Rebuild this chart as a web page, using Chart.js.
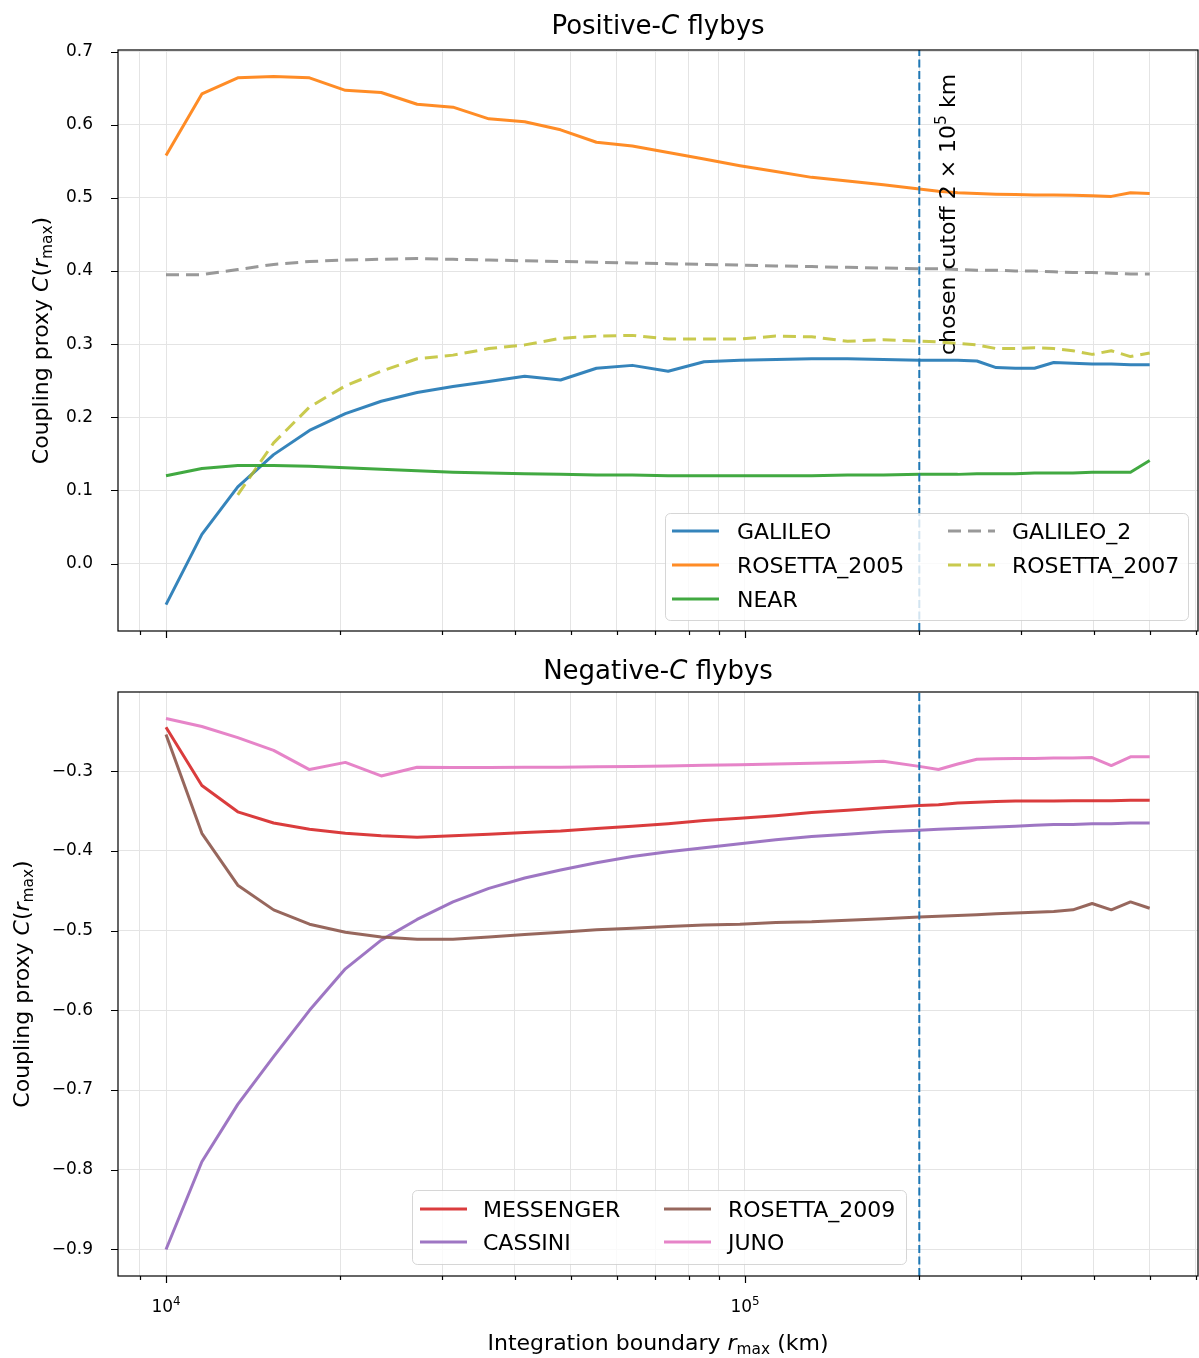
<!DOCTYPE html>
<html>
<head>
<meta charset="utf-8">
<script src="https://cdn.jsdelivr.net/npm/chart.js@4.4.0/dist/chart.umd.min.js"></script>
<style>
  html, body { margin: 0; padding: 0; background: #fff; }
  #wrap { position: relative; width: 1199px; height: 1358px; }
  #posChart { position: absolute; left: 0; top: 0; }
  #negChart { position: absolute; left: 0; top: 650px; }
</style>
</head>
<body>
<div id="wrap">
  <canvas id="posChart" width="1199" height="650"></canvas>
  <canvas id="negChart" width="1199" height="708"></canvas>
</div>
<script>
// integration boundary r_max (km)
const rMax = [10000, 11533, 13302, 15341, 17694, 20407, 23535, 27144, 31306, 36106,
  41642, 48027, 55391, 63884, 73679, 84976, 98005, 113032, 130363, 150351,
  173404, 200000, 215870, 233000, 251487, 271443, 292982, 316228, 341321, 368405,
  397639, 429193, 463251, 500000];

// positive-C flybys
const galileo = [-0.056, 0.040, 0.105, 0.149, 0.182, 0.205, 0.222, 0.234, 0.242, 0.249,
  0.256, 0.251, 0.267, 0.271, 0.263, 0.276, 0.278, 0.279, 0.280, 0.280,
  0.279, 0.278, 0.278, 0.278, 0.277, 0.268, 0.267, 0.267, 0.275, 0.274,
  0.273, 0.273, 0.272, 0.272];
const rosetta2005 = [0.558, 0.642, 0.664, 0.666, 0.664, 0.647, 0.644, 0.628, 0.624, 0.608,
  0.604, 0.593, 0.576, 0.571, 0.562, 0.553, 0.544, 0.536, 0.528, 0.523,
  0.518, 0.512, 0.509, 0.507, 0.506, 0.505, 0.5045, 0.504, 0.504, 0.5035,
  0.503, 0.502, 0.507, 0.506];
const near = [0.120, 0.130, 0.134, 0.134, 0.133, 0.131, 0.129, 0.127, 0.125, 0.124,
  0.123, 0.122, 0.121, 0.121, 0.120, 0.120, 0.120, 0.120, 0.120, 0.121,
  0.121, 0.122, 0.122, 0.122, 0.123, 0.123, 0.123, 0.124, 0.124, 0.124,
  0.125, 0.125, 0.125, 0.141];
const galileo2 = [0.395, 0.395, 0.402, 0.409, 0.413, 0.415, 0.416, 0.417, 0.416, 0.415,
  0.414, 0.413, 0.412, 0.411, 0.410, 0.409, 0.408, 0.407, 0.406, 0.405,
  0.404, 0.403, 0.403, 0.402, 0.401, 0.401, 0.400, 0.400, 0.399, 0.398,
  0.398, 0.397, 0.396, 0.396];
const rosetta2007 = [null, null, 0.094, 0.165, 0.214, 0.243, 0.263, 0.280, 0.285, 0.294,
  0.299, 0.308, 0.311, 0.312, 0.307, 0.307, 0.307, 0.311, 0.310, 0.304,
  0.306, 0.304, 0.303, 0.301, 0.299, 0.294, 0.294, 0.295, 0.294, 0.291,
  0.286, 0.291, 0.283, 0.288];

// negative-C flybys
const messenger = [-0.245, -0.318, -0.351, -0.365, -0.373, -0.378, -0.381, -0.383, -0.381, -0.379,
  -0.377, -0.375, -0.372, -0.369, -0.366, -0.362, -0.359, -0.356, -0.352, -0.349,
  -0.346, -0.343, -0.342, -0.340, -0.339, -0.338, -0.3375, -0.3375, -0.3375, -0.337,
  -0.337, -0.337, -0.3365, -0.3365];
const cassini = [-0.900, -0.790, -0.718, -0.658, -0.600, -0.548, -0.512, -0.486, -0.464, -0.447,
  -0.434, -0.424, -0.415, -0.407, -0.401, -0.396, -0.391, -0.386, -0.382, -0.379,
  -0.376, -0.374, -0.373, -0.372, -0.371, -0.370, -0.369, -0.368, -0.367, -0.367,
  -0.366, -0.366, -0.365, -0.365];
const rosetta2009 = [-0.254, -0.378, -0.443, -0.474, -0.492, -0.502, -0.508, -0.511, -0.511, -0.508,
  -0.505, -0.502, -0.499, -0.497, -0.495, -0.493, -0.492, -0.490, -0.489, -0.487,
  -0.485, -0.483, -0.482, -0.481, -0.480, -0.479, -0.478, -0.477, -0.476, -0.474,
  -0.466, -0.474, -0.464, -0.472];
const juno = [-0.234, -0.244, -0.258, -0.274, -0.298, -0.289, -0.306, -0.295, -0.2955, -0.2955,
  -0.295, -0.295, -0.2945, -0.294, -0.2935, -0.2925, -0.292, -0.291, -0.290, -0.289,
  -0.2875, -0.294, -0.298, -0.291, -0.285, -0.2845, -0.284, -0.284, -0.2835, -0.2835,
  -0.283, -0.293, -0.282, -0.282];

const cutoff = 2e5;

// axis ticks
const xMajorTicks = [1e4, 1e5];
const xMinorTicks = [9e3, 2e4, 3e4, 4e4, 5e4, 6e4, 7e4, 8e4, 9e4, 2e5, 3e5, 4e5, 5e5, 6e5];
const posTicks = [0.0, 0.1, 0.2, 0.3, 0.4, 0.5, 0.6, 0.7];
const negTicks = [-0.9, -0.8, -0.7, -0.6, -0.5, -0.4, -0.3];

const FONT = "'DejaVu Sans', sans-serif";
const GRID = '#e4e4e4';
Chart.defaults.font.family = FONT;

function series(values) {
  return rMax.map((r, i) => ({ x: r, y: values[i] }));
}

function lineSet(label, values, color, dash, order) {
  return {
    label: label,
    data: series(values),
    borderColor: color,
    borderWidth: 3,
    borderDash: dash || [],
    borderJoinStyle: 'round',
    pointRadius: 0,
    tension: 0,
    fill: false,
    order: order
  };
}

function cutoffSet(yMin, yMax) {
  return {
    label: 'cutoff',
    data: [{ x: cutoff, y: yMin }, { x: cutoff, y: yMax }],
    borderColor: '#1f77b4',
    borderWidth: 2,
    borderDash: [8, 3.5],
    pointRadius: 0,
    fill: false,
    order: -100
  };
}

// rich text: segments with italic / sub / sup
function segFont(s, size) {
  const sz = (s.sub || s.sup) ? size * 0.7 : size;
  return (s.it ? 'italic ' : '') + sz + 'px ' + FONT;
}
function richWidth(ctx, segs, size) {
  let w = 0;
  segs.forEach(s => { ctx.font = segFont(s, size); w += ctx.measureText(s.t).width; });
  return w;
}
function drawRich(ctx, segs, size, x, y, align) {
  const w = richWidth(ctx, segs, size);
  let cx = align === 'center' ? x - w / 2 : (align === 'right' ? x - w : x);
  ctx.textAlign = 'left';
  ctx.textBaseline = 'alphabetic';
  ctx.fillStyle = '#000';
  segs.forEach(s => {
    ctx.font = segFont(s, size);
    const dy = s.sub ? 0.2 * size : (s.sup ? -0.42 * size : 0);
    ctx.fillText(s.t, cx, y + dy);
    cx += ctx.measureText(s.t).width;
  });
}

const yLabelSegs = [{ t: 'Coupling proxy ' }, { t: 'C', it: true }, { t: '(' }, { t: 'r', it: true }, { t: 'max', sub: true }, { t: ')' }];

function decorPlugin(cfg) {
  return {
    id: 'decor_' + cfg.name,
    afterDraw(chart) {
      const ctx = chart.ctx, a = chart.chartArea;
      const xs = chart.scales.x, ys = chart.scales.y;
      ctx.save();

      // tick marks
      ctx.strokeStyle = '#000';
      ctx.lineWidth = 1.2;
      ctx.beginPath();
      cfg.yTicks.forEach(v => {
        const y = Math.round(ys.getPixelForValue(v)) + 0.5;
        ctx.moveTo(a.left - 7, y); ctx.lineTo(a.left, y);
      });
      xMajorTicks.concat(xMinorTicks).forEach(v => {
        const x = Math.round(xs.getPixelForValue(v)) + 0.5;
        if (x < a.left || x > a.right) return;
        const len = xMajorTicks.includes(v) ? 7 : 4;
        ctx.moveTo(x, a.bottom); ctx.lineTo(x, a.bottom + len);
      });
      ctx.stroke();

      // frame
      ctx.lineWidth = 1.2;
      ctx.strokeRect(a.left, a.top, a.right - a.left, a.bottom - a.top);

      // x tick labels
      if (cfg.xTickLabels) {
        xMajorTicks.forEach(v => {
          const exp = String(Math.round(Math.log10(v)));
          drawRich(ctx, [{ t: '10' }, { t: exp, sup: true }], 17, xs.getPixelForValue(v), a.bottom + 36, 'center');
        });
        drawRich(ctx, [{ t: 'Integration boundary ' }, { t: 'r', it: true }, { t: 'max', sub: true }, { t: ' (km)' }],
          22, (a.left + a.right) / 2, a.bottom + 74, 'center');
      }

      // title
      drawRich(ctx, cfg.title, 26, (a.left + a.right) / 2, cfg.titleY, 'center');

      // y label
      ctx.save();
      ctx.translate(cfg.yLabelX, (a.top + a.bottom) / 2);
      ctx.rotate(-Math.PI / 2);
      drawRich(ctx, yLabelSegs, 22, 0, 0, 'center');
      ctx.restore();

      // cutoff annotation
      if (cfg.cutoffText) {
        ctx.save();
        ctx.translate(xs.getPixelForValue(cutoff) + 36, 355);
        ctx.rotate(-Math.PI / 2);
        drawRich(ctx, [{ t: 'chosen cutoff 2 \u00d7 10' }, { t: '5', sup: true }, { t: ' km' }], 22, 0, 0, 'left');
        ctx.restore();
      }

      // legend
      const L = cfg.legend;
      ctx.beginPath();
      ctx.roundRect(L.box[0] + 0.5, L.box[1] + 0.5, L.box[2], L.box[3], 5);
      ctx.fillStyle = 'rgba(255,255,255,0.8)';
      ctx.fill();
      ctx.strokeStyle = 'rgba(204,204,204,0.8)';
      ctx.lineWidth = 1;
      ctx.stroke();
      L.columns.forEach(col => {
        col.labels.forEach((lab, r) => {
          const ds = chart.data.datasets.find(d => d.label === lab);
          const y = L.rowY[r];
          ctx.save();
          ctx.strokeStyle = ds.borderColor;
          ctx.lineWidth = ds.borderWidth;
          ctx.setLineDash(ds.borderDash || []);
          ctx.beginPath();
          ctx.moveTo(col.handleX, y); ctx.lineTo(col.handleX + 47, y);
          ctx.stroke();
          ctx.restore();
          ctx.fillStyle = '#000';
          ctx.font = '22px ' + FONT;
          ctx.textAlign = 'left';
          ctx.textBaseline = 'alphabetic';
          ctx.fillText(lab, col.textX, y + 8);
        });
      });

      ctx.restore();
    }
  };
}

function makeChart(id, datasets, cfg) {
  return new Chart(document.getElementById(id), {
    type: 'line',
    data: { datasets: datasets },
    options: {
      responsive: false,
      animation: false,
      events: [],
      layout: { padding: { top: cfg.padTop, right: 1, left: 0, bottom: 0 } },
      plugins: { legend: { display: false }, tooltip: { enabled: false } },
      scales: {
        x: {
          type: 'logarithmic',
          min: 8262,
          max: 605900,
          afterBuildTicks: s => { s.ticks = xMajorTicks.concat(xMinorTicks).map(v => ({ value: v })); },
          afterFit: s => { s.height = cfg.xHeight; },
          ticks: { display: false },
          grid: { color: GRID, lineWidth: 1, drawTicks: false },
          border: { display: false }
        },
        y: {
          type: 'linear',
          min: cfg.yRange[0],
          max: cfg.yRange[1],
          afterBuildTicks: s => { s.ticks = cfg.yTicks.map(v => ({ value: v })); },
          afterFit: s => { s.width = 118; s.paddingTop = 0; s.paddingBottom = 0; },
          ticks: {
            color: '#000',
            font: { size: 17 },
            padding: 0,
            callback: v => (v < 0 ? '\u2212' : '') + Math.abs(v).toFixed(1)
          },
          // invisible tick area keeps the labels clear of the axis
          grid: { color: GRID, lineWidth: 1, drawTicks: true, tickLength: 25, tickColor: 'rgba(0,0,0,0)' },
          border: { display: false }
        }
      }
    },
    plugins: [decorPlugin(cfg)]
  });
}

// Positive-C panel
const posRange = [-0.0921, 0.7021];
const posChart = makeChart('posChart', [
  lineSet('GALILEO', galileo, 'rgba(31,119,180,0.9)', null, 0),
  lineSet('ROSETTA_2005', rosetta2005, 'rgba(255,127,14,0.9)', null, -1),
  lineSet('NEAR', near, 'rgba(44,160,44,0.9)', null, -2),
  lineSet('GALILEO_2', galileo2, 'rgba(127,127,127,0.8)', [13, 7], -3),
  lineSet('ROSETTA_2007', rosetta2007, 'rgba(188,189,34,0.8)', [13, 7], -4),
  cutoffSet(posRange[0], posRange[1])
], {
  name: 'pos',
  padTop: 50,
  xHeight: 19,
  yRange: posRange,
  yTicks: posTicks,
  xTickLabels: false,
  titleY: 34,
  title: [{ t: 'Positive-' }, { t: 'C', it: true }, { t: ' flybys' }],
  yLabelX: 48,
  cutoffText: true,
  legend: {
    box: [665, 513, 523, 107],
    rowY: [531, 565, 599],
    columns: [
      { handleX: 672, textX: 737, labels: ['GALILEO', 'ROSETTA_2005', 'NEAR'] },
      { handleX: 948, textX: 1012, labels: ['GALILEO_2', 'ROSETTA_2007'] }
    ]
  }
});

// Negative-C panel
const negRange = [-0.9333, -0.2007];
const negChart = makeChart('negChart', [
  lineSet('MESSENGER', messenger, 'rgba(214,39,40,0.9)', null, 0),
  lineSet('CASSINI', cassini, 'rgba(148,103,189,0.9)', null, -1),
  lineSet('ROSETTA_2009', rosetta2009, 'rgba(140,86,75,0.9)', null, -2),
  lineSet('JUNO', juno, 'rgba(227,119,194,0.9)', null, -3),
  cutoffSet(negRange[0], negRange[1])
], {
  name: 'neg',
  padTop: 42,
  xHeight: 82,
  yRange: negRange,
  yTicks: negTicks,
  xTickLabels: true,
  titleY: 28.5,
  title: [{ t: 'Negative-' }, { t: 'C', it: true }, { t: ' flybys' }],
  yLabelX: 29,
  cutoffText: false,
  legend: {
    box: [412, 540, 494, 74],
    rowY: [559, 592],
    columns: [
      { handleX: 420, textX: 483, labels: ['MESSENGER', 'CASSINI'] },
      { handleX: 664, textX: 728, labels: ['ROSETTA_2009', 'JUNO'] }
    ]
  }
});
</script>
</body>
</html>
